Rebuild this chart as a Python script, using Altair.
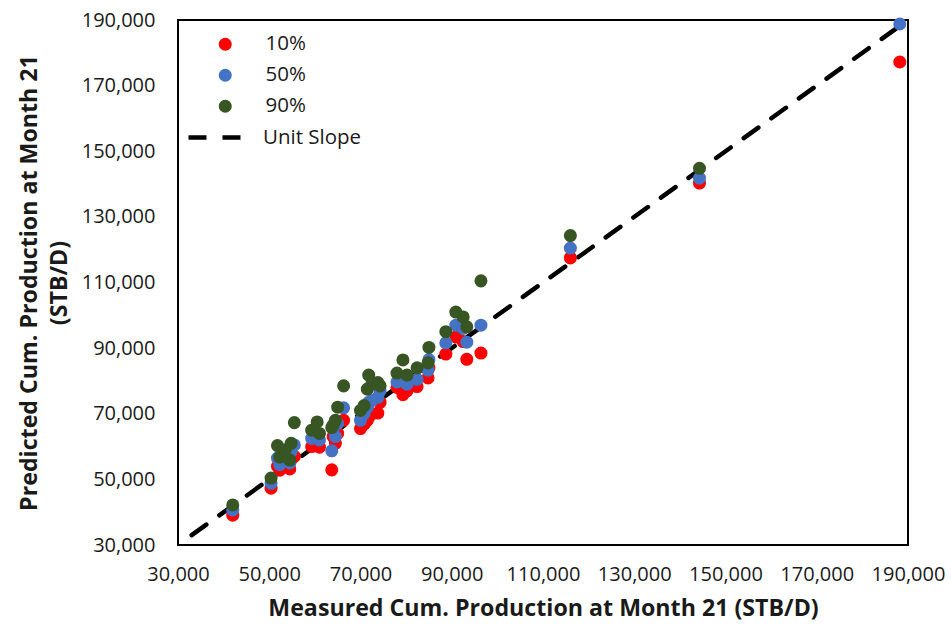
import altair as alt
import pandas as pd

# Measured cumulative production at month 21 for each well (STB/D)
measured = [42000, 50400, 51800, 52300, 53500, 54500, 54800, 55500, 59300, 60500,
            61000, 63700, 64500, 65000, 66300, 64000, 70000, 70800, 71500, 71800,
            72500, 73800, 74300, 78000, 79300, 80200, 82400, 84800, 85000, 88700,
            90900, 92500, 93300, 96400, 116000, 144300, 188200]

# Predicted cumulative production, P10 / P50 / P90 cases
p10 = [39100, 47300, 54000, 52800, 55000, 53200, 56000, 57000, 60000, 61000,
       59800, 52900, 61000, 64000, 68000, 63000, 65500, 66800, 68000, 69000,
       70000, 70200, 73500, 78000, 75800, 77000, 78300, 80900, 84000, 88200,
       93400, 92000, 86600, 88500, 117500, 140300, 177200]
p50 = [40700, 48800, 56500, 54500, 57500, 55000, 58500, 60500, 62500, 63000,
       62000, 58700, 63000, 67000, 71800, 65500, 68000, 70000, 72000, 73500,
       74000, 75000, 77000, 79700, 80000, 79000, 80500, 83300, 86500, 91600,
       97000, 96000, 91800, 97000, 120500, 141800, 188800]
p90 = [42200, 50400, 60300, 56800, 59000, 55900, 61000, 67300, 65000, 67500,
       64000, 65800, 68000, 72000, 78500, 66500, 71000, 72500, 77500, 81800,
       79000, 79500, 78500, 82400, 86400, 81800, 84000, 85500, 90200, 95000,
       101000, 99500, 96500, 110500, 124300, 144800, None]

cases = ["10%", "50%", "90%"]
case_colors = ["#FF0000", "#4472C4", "#375623"]

# Unit-slope reference line end points
line_x = [33000, 190000]

rows = []
for case, series in zip(cases, [p10, p50, p90]):
    for m, p in zip(measured, series):
        if p is not None:
            rows.append({"Measured": m, "Predicted": p, "Case": case})
df_pts = pd.DataFrame(rows)
df_line = pd.DataFrame({"Measured": line_x, "Predicted": line_x, "Series": "Unit Slope"})

tick_vals = list(range(30000, 190001, 20000))
font = "Open Sans"

x_enc = alt.X(
    "Measured:Q",
    scale=alt.Scale(domain=[30000, 190000], nice=False, zero=False),
    axis=alt.Axis(
        values=tick_vals, format=",.0f", title="Measured Cum. Production at Month 21 (STB/D)",
        labelPadding=19, titlePadding=13, labelFlush=False, labelOverlap=False,
    ),
)
y_enc = alt.Y(
    "Predicted:Q",
    scale=alt.Scale(domain=[30000, 190000], nice=False, zero=False),
    axis=alt.Axis(
        values=tick_vals, format=",.0f",
        title=["Predicted Cum. Production at Month 21", "(STB/D)"],
        labelPadding=23, titlePadding=10, titleLineHeight=30,
        labelFlush=False, labelOverlap=False,
    ),
)

line = alt.Chart(df_line).mark_line(color="black", strokeWidth=4.5, strokeCap="round").encode(
    x=x_enc,
    y=y_enc,
    strokeDash=alt.StrokeDash(
        "Series:N",
        scale=alt.Scale(domain=["Unit Slope"], range=[[18, 16]]),
        legend=alt.Legend(
            title=None, orient="none", legendX=8, legendY=89,
            symbolType="stroke", symbolSize=2704, symbolStrokeWidth=4.5,
            symbolStrokeColor="black", labelOffset=20, padding=0,
            labelFontSize=20.5, labelFont=font, labelColor="#1a1a1a",
        ),
    ),
)

points = alt.Chart(df_pts).mark_circle(size=170, opacity=1).encode(
    x="Measured:Q",
    y="Predicted:Q",
    color=alt.Color(
        "Case:N",
        scale=alt.Scale(domain=cases, range=case_colors),
        legend=alt.Legend(
            title=None, orient="none", legendX=37, legendY=14,
            symbolType="circle", symbolSize=170, symbolOpacity=1,
            labelOffset=30, rowPadding=10, padding=0,
            labelFontSize=20.5, labelFont=font, labelColor="#1a1a1a",
        ),
    ),
)

chart = (
    alt.layer(line, points)
    .resolve_legend(color="independent", strokeDash="independent")
    .properties(
        width=730, height=525,
        padding={"left": 178, "top": 20, "right": 43, "bottom": 84},
        autosize=alt.AutoSizeParams(type="none"),
        background="white",
    )
    .configure_view(stroke="black", strokeWidth=2)
    .configure_axis(
        domain=False, ticks=False, tickSize=0, grid=False,
        labelFont=font, labelFontSize=20, labelColor="#1a1a1a",
        titleFont=font, titleFontSize=23.2, titleFontWeight="bold", titleColor="#1a1a1a",
    )
)

chart.save("out.html", embed_options={"renderer": "svg", "actions": False})
